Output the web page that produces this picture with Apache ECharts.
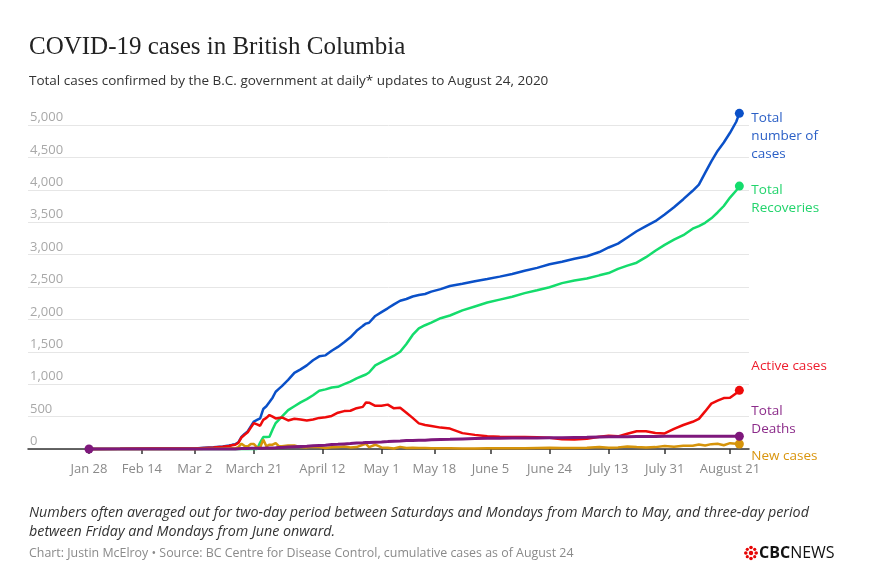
<!DOCTYPE html>
<html>
<head>
<meta charset="utf-8">
<script src="https://cdn.jsdelivr.net/npm/echarts@6/dist/echarts.min.js"></script>
<style>
  html, body { margin: 0; padding: 0; background: #fff; }
  #chart { width: 878px; height: 580px; }
</style>
</head>
<body>
<div id="chart"></div>
<script>
// ---- Data ----
const startDate = '2020-01-28';
const dayOffsets = [0,10,20,30,34,37,40,43,45,46,47,48,49,50,51,52,53,54,55,56,57,58,59,60,61,62,64,66,68,70,72,74,76,78,80,82,84,86,88,89,90,92,94,96,98,100,102,104,106,108,110,113,116,120,124,128,132,136,140,144,148,152,156,160,164,167,170,173,176,179,182,185,188,191,194,196,198,200,202,204,206,208,209];

const totalCases = [1,2,7,8,8,21,27,39,53,64,73,103,186,231,271,348,424,448,472,617,659,725,792,884,927,970,1066,1174,1229,1291,1370,1430,1445,1517,1575,1647,1724,1824,1900,1935,1948,2053,2112,2171,2232,2288,2315,2353,2376,2392,2428,2467,2516,2550,2590,2623,2660,2700,2750,2795,2850,2890,2935,2975,3040,3110,3170,3265,3360,3440,3515,3620,3730,3855,3985,4080,4260,4440,4600,4730,4880,5050,5180];

const totalRecoveries = [0,0,0,0,0,0,0,0,0,0,0,0,0,0,0,0,0,0,100,185,185,190,300,400,450,500,600,660,720,770,830,900,920,950,960,1000,1040,1090,1130,1150,1180,1290,1340,1390,1440,1500,1620,1760,1860,1910,1950,2018,2060,2140,2200,2260,2305,2350,2405,2450,2496,2560,2600,2630,2680,2715,2780,2830,2875,2960,3060,3150,3230,3300,3400,3440,3490,3560,3650,3750,3880,3990,4057];

const activeCases = [1,2,7,8,8,17,22,33,47,58,67,95,178,220,258,330,400,380,359,450,480,524,500,472,480,487,441,467,455,441,455,480,490,510,560,585,590,630,650,718,715,667,667,685,628,636,560,480,395,370,355,330,315,245,218,198,188,185,186,180,172,150,145,158,190,205,195,236,275,275,248,240,310,370,420,465,580,700,745,786,790,860,905];

const totalDeaths = [0,0,0,0,0,0,1,1,1,1,1,4,7,7,8,10,10,10,13,13,14,14,17,19,24,24,31,35,39,43,50,55,58,68,72,78,84,92,97,100,100,105,109,114,121,124,130,132,134,135,141,145,149,155,161,165,167,168,168,169,172,174,177,180,186,189,189,190,191,192,194,195,195,195,196,196,196,197,198,198,198,198,196];

const newCases = [1,0,0,0,0,5,3,7,7,11,9,30,83,45,40,77,76,24,24,145,42,66,67,92,43,43,53,53,29,25,34,30,17,27,29,40,25,29,66,80,30,66,25,20,8,33,15,20,15,16,12,10,12,9,8,13,10,12,10,15,20,17,15,18,30,20,25,40,30,25,29,45,35,50,50,70,55,75,80,58,90,80,78];

const tickLabels = ['Jan 28','Feb 14','Mar 2','March 21','April 12','May 1','May 18','June 5','June 24','July 13','July 31','August 21'];
const tickDays = [0,17,34,53,75,94,111,129,148,167,185,206];

const seriesNames = ['Total number of cases','Total Recoveries','Active cases','New cases','Total Deaths'];
const seriesLabels = ['Total\nnumber of\ncases','Total\nRecoveries','Active cases','New cases','Total\nDeaths'];

// ---- Build chart ----
const lineColors = ['#0a50c8','#14dc6c','#ee0a0a','#d6940a','#7e187c'];
const labelColors = ['#2a5fc6','#22d46c','#ee1c2c','#d9950e','#8c2c8a'];
const labelOffsets = [[0,23],[0,13],[0,-24],[0,12],[0,-16]];
const seriesData = [totalCases,totalRecoveries,activeCases,newCases,totalDeaths];

const chart = echarts.init(document.getElementById('chart'), null, {renderer: 'canvas'});
const last = dayOffsets.length - 1;

const series = seriesData.map((vals, si) => ({
  name: seriesNames[si],
  type: 'line',
  data: vals.map((v, i) => [dayOffsets[i], v]),
  clip: false,
  showSymbol: true,
  symbol: 'circle',
  symbolSize: (val, p) => (p.dataIndex === last || (si === 4 && p.dataIndex === 0)) ? 9 : 0,
  itemStyle: { color: lineColors[si] },
  lineStyle: { color: lineColors[si], width: si === 4 ? 3 : 2.5 },
  emphasis: { disabled: true },
  z: 2 + si,
  endLabel: {
    show: true,
    formatter: seriesLabels[si],
    color: labelColors[si],
    fontFamily: 'Open Sans',
    fontSize: 13.5,
    lineHeight: 18,
    distance: 12,
    offset: labelOffsets[si],
    align: 'left'
  }
}));

const option = {
  animation: false,
  backgroundColor: '#ffffff',
  title: [
    { text: 'COVID-19 cases in British Columbia', left: 29, top: 35, padding: 0,
      textStyle: { fontFamily: 'Liberation Serif', fontSize: 25, fontWeight: 'normal', color: '#222' } },
    { text: 'Total cases confirmed by the B.C. government at daily* updates to August 24, 2020', left: 29, top: 74, padding: 0,
      textStyle: { fontFamily: 'Open Sans', fontSize: 13.5, fontWeight: 'normal', color: '#333' } },
    { text: 'Numbers often averaged out for two-day period between Saturdays and Mondays from March to May, and three-day period\nbetween Friday and Mondays from June onward.', left: 29, top: 503, padding: 0,
      textStyle: { fontFamily: 'Open Sans', fontStyle: 'italic', fontSize: 14.3, lineHeight: 19, fontWeight: 'normal', color: '#333' } },
    { text: 'Chart: Justin McElroy \u2022 Source: BC Centre for Disease Control, cumulative cases as of August 24', left: 29, top: 547, padding: 0,
      textStyle: { fontFamily: 'Open Sans', fontSize: 12.4, fontWeight: 'normal', color: '#8a8a8a' } }
  ],
  grid: { left: 28, right: 129, top: 125, bottom: 131, containLabel: false },
  xAxis: {
    type: 'value',
    min: -19.6,
    max: 212.1,
    splitLine: { show: false },
    axisLine: { show: true, onZero: false, lineStyle: { color: '#333', width: 1.5 } },
    axisTick: { show: true, customValues: tickDays, length: 5, lineStyle: { color: '#333', width: 1.5 } },
    axisLabel: {
      show: true,
      customValues: tickDays,
      margin: 14,
      color: '#8a8a8a',
      fontFamily: 'Open Sans',
      fontSize: 13,
      formatter: (v) => { const i = tickDays.indexOf(Math.round(v)); return i >= 0 ? tickLabels[i] : ''; }
    }
  },
  yAxis: {
    type: 'value',
    min: 0,
    max: 5000,
    interval: 500,
    axisLine: { show: false },
    axisTick: { show: false },
    splitLine: { show: true, lineStyle: { color: '#e6e6e6', width: 1 } },
    axisLabel: {
      inside: true,
      align: 'left',
      verticalAlign: 'bottom',
      margin: 2,
      padding: [0, 0, 1, 0],
      color: '#a8a8a8',
      fontFamily: 'Open Sans',
      fontSize: 13,
      formatter: (v) => v.toLocaleString('en-US')
    }
  },
  graphic: [
    { type: 'group', left: 744, top: 545, children: [
      { type: 'circle', shape: { cx: 6, cy: 8, r: 2.2 }, style: { fill: '#e60505' } },
      { type: 'circle', shape: { cx: 6, cy: 2.5, r: 1.8 }, style: { fill: '#e60505' } },
      { type: 'circle', shape: { cx: 6, cy: 13.5, r: 1.8 }, style: { fill: '#e60505' } },
      { type: 'circle', shape: { cx: 0.8, cy: 8, r: 1.8 }, style: { fill: '#e60505' } },
      { type: 'circle', shape: { cx: 11.2, cy: 8, r: 1.8 }, style: { fill: '#e60505' } },
      { type: 'circle', shape: { cx: 2.3, cy: 4.3, r: 1.6 }, style: { fill: '#e60505' } },
      { type: 'circle', shape: { cx: 9.7, cy: 4.3, r: 1.6 }, style: { fill: '#e60505' } },
      { type: 'circle', shape: { cx: 2.3, cy: 11.7, r: 1.6 }, style: { fill: '#e60505' } },
      { type: 'circle', shape: { cx: 9.7, cy: 11.7, r: 1.6 }, style: { fill: '#e60505' } },
      { type: 'text', x: 14, y: 0, style: {
          text: '{b|CBC}{n|NEWS}',
          rich: {
            b: { fontFamily: 'Open Sans', fontWeight: 'bold', fontSize: 16, fill: '#111', color: '#111' },
            n: { fontFamily: 'Open Sans', fontWeight: 'normal', fontSize: 16, fill: '#111', color: '#111' }
          }
      } }
    ] }
  ],
  series: series
};
chart.setOption(option);
</script>
</body>
</html>
